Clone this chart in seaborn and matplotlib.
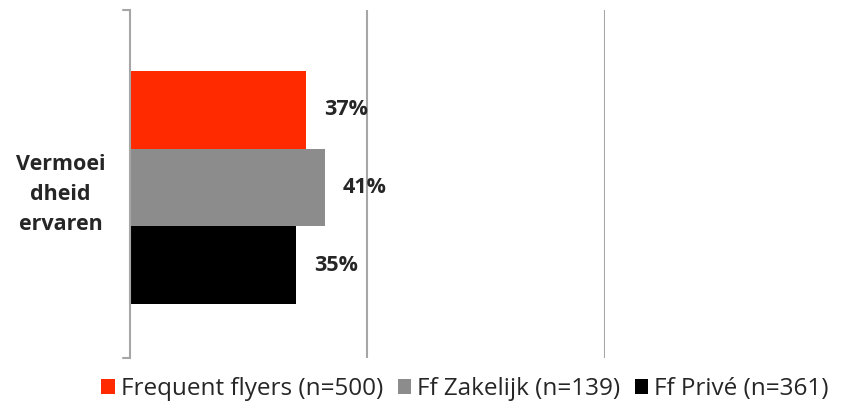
import pandas as pd
import matplotlib.pyplot as plt
import seaborn as sns

# Data
category = ["Vermoei\ndheid\nervaren"]
groups = ["Frequent flyers (n=500)", "Ff Zakelijk (n=139)", "Ff Privé (n=361)"]
values = [0.37, 0.41, 0.35]
colors = ["#ff2a00", "#8c8c8c", "#000000"]

df = pd.DataFrame({"categorie": category * len(groups), "groep": groups, "waarde": values})

sns.set_style("white")
plt.rcParams["font.family"] = ["Open Sans", "DejaVu Sans"]

fig = plt.figure(figsize=(8.45, 4.09), dpi=100)
ax = fig.add_axes([130 / 845, 1 - 358 / 409, (605 - 130) / 845, (358 - 10) / 409])

sns.barplot(data=df, y="categorie", x="waarde", hue="groep", palette=colors,
            orient="h", width=0.67, saturation=1, linewidth=0, ax=ax, legend=True)

ax.set_ylim(0.49, -0.51)
ax.set_xlim(0, 1.0)
ax.set_xticks([0.5, 1.0])
ax.set_xticklabels([])
ax.tick_params(axis="x", length=0)
ax.grid(axis="x", color="#a6a6a6", linewidth=1.5)
ax.set_axisbelow(True)
ax.set_xlabel("")
ax.set_ylabel("")

for side in ["top", "right", "bottom"]:
    ax.spines[side].set_visible(False)
ax.spines["left"].set_color("#a6a6a6")
ax.spines["left"].set_linewidth(1.5)

ax.set_yticks([0])
ax.set_yticklabels(category, fontsize=15.5, fontweight="bold", linespacing=1.55, ha="center")
ax.tick_params(axis="y", length=0, pad=50)
# small end ticks on the category axis
for yy in ax.get_ylim():
    ax.plot([-0.015, 0], [yy, yy], color="#a6a6a6", linewidth=1.5, clip_on=False)

for cont in ax.containers:
    for bar in cont:
        w = bar.get_width()
        ax.text(w + 0.038, bar.get_y() + bar.get_height() / 2, f"{w * 100:.0f}%",
                ha="left", va="center", fontsize=15.5, fontweight="bold")

ax.legend(loc="center", bbox_to_anchor=(465 / 845, 1 - 389 / 409), bbox_transform=fig.transFigure,
          ncol=3, frameon=False, fontsize=17.5, handlelength=0.55, handleheight=0.55,
          handletextpad=0.25, columnspacing=0.6, borderaxespad=0)

fig.savefig("out.png", dpi=100)
